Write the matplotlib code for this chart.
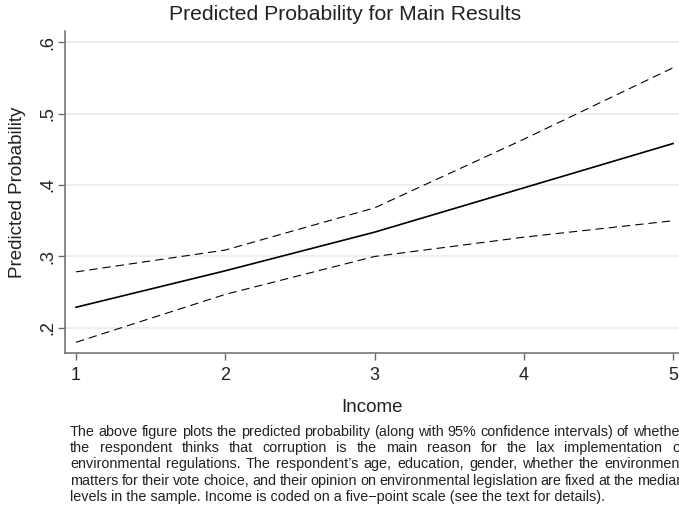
import matplotlib
matplotlib.use("Agg")
import matplotlib.pyplot as plt
from matplotlib import font_manager

plt.rcParams['font.family'] = ['Liberation Sans', 'DejaVu Sans']

# ---- data ----
income = [1, 2, 3, 4, 5]
pred = [0.229, 0.280, 0.334, 0.396, 0.458]
upper = [0.2785, 0.309, 0.368, 0.464, 0.564]
lower = [0.180, 0.247, 0.300, 0.327, 0.350]
yticks = [0.2, 0.3, 0.4, 0.5, 0.6]
ytick_labels = [".2", ".3", ".4", ".5", ".6"]
xticks = [1, 2, 3, 4, 5]

title = "Predicted Probability for Main Results"
xlabel = "Income"
ylabel = "Predicted Probability"
caption_lines = [
    "The above figure plots the predicted probability (along with 95% confidence intervals) of whether",
    "the respondent thinks that corruption is the main reason for the lax implementation of",
    "environmental regulations. The respondent\u2019s age, education, gender, whether the environment",
    "matters for their vote choice, and their opinion on environmental legislation are fixed at the median",
    "levels in the sample. Income is coded on a five\u2212point scale (see the text for details).",
]

W, H = 679, 507
fig = plt.figure(figsize=(W / 100, H / 100), dpi=100)
ax = fig.add_axes([65 / W, 1 - 353 / H, 1 - 65 / W, (353 - 31) / H])

spine_col = '#6b6b6b'
ax.set_xlim(0.926, 5.04)
ax.set_ylim(0.165, 0.6154)
for y in yticks:
    ax.axhline(y, color='#ebebeb', lw=1.2, zorder=0)

ax.plot(income, upper, color='black', lw=0.8, dashes=(7.5, 4.5))
ax.plot(income, lower, color='black', lw=0.8, dashes=(7.5, 4.5))
ax.plot(income, pred, color='black', lw=1.2)

for s in ['top', 'right']:
    ax.spines[s].set_visible(False)
for s in ['left', 'bottom']:
    ax.spines[s].set_color(spine_col)
    ax.spines[s].set_linewidth(1.1)

ax.set_yticks(yticks)
ax.set_yticklabels(ytick_labels, rotation=90, va='center')
ax.set_xticks(xticks)
ax.set_xticklabels([str(v) for v in xticks])
ax.tick_params(axis='both', colors=spine_col, length=5, width=1.0,
               labelsize=13, labelcolor='#222222')
ax.tick_params(axis='x', pad=5)
ax.tick_params(axis='y', pad=1.5)

ax.set_xlabel(xlabel, fontsize=13.5, color='#222222', labelpad=11)
ax.set_ylabel(ylabel, fontsize=13.5, color='#222222', labelpad=9)
fig.text(345 / W, 1 - 14 / H, title, ha='center', va='center', fontsize=15.2, color='#222222')

# ---- justified caption ----
names = {f.name for f in font_manager.fontManager.ttflist}
cap_family = ['Liberation Sans Narrow'] if 'Liberation Sans Narrow' in names else ['Liberation Sans']

fig.canvas.draw()
renderer = fig.canvas.get_renderer()
cap_fs = 9.0
left_px = 70
right_px = 684
line_y0 = 432
line_dy = 16.2


def width_px(s, fs):
    t = fig.text(0, 0, s, fontsize=fs, family=cap_family)
    w = t.get_window_extent(renderer).width
    t.remove()
    return w

# scale font so last line has the observed width (~533 px)
w_last = width_px(caption_lines[-1], cap_fs)
cap_fs = cap_fs * 533 / w_last

for i, line in enumerate(caption_lines):
    ypx = line_y0 + i * line_dy
    yf = 1 - ypx / H
    if i == len(caption_lines) - 1:
        fig.text(left_px / W, yf, line, fontsize=cap_fs, family=cap_family,
                 ha='left', va='center', color='#222222')
        continue
    words = line.split(' ')
    ws = [width_px(w, cap_fs) for w in words]
    gap = (right_px - left_px - sum(ws)) / (len(words) - 1)
    x = left_px
    for w, wd in zip(words, ws):
        fig.text(x / W, yf, w, fontsize=cap_fs, family=cap_family,
                 ha='left', va='center', color='#222222')
        x += wd + gap

fig.savefig('out.png', dpi=100)
